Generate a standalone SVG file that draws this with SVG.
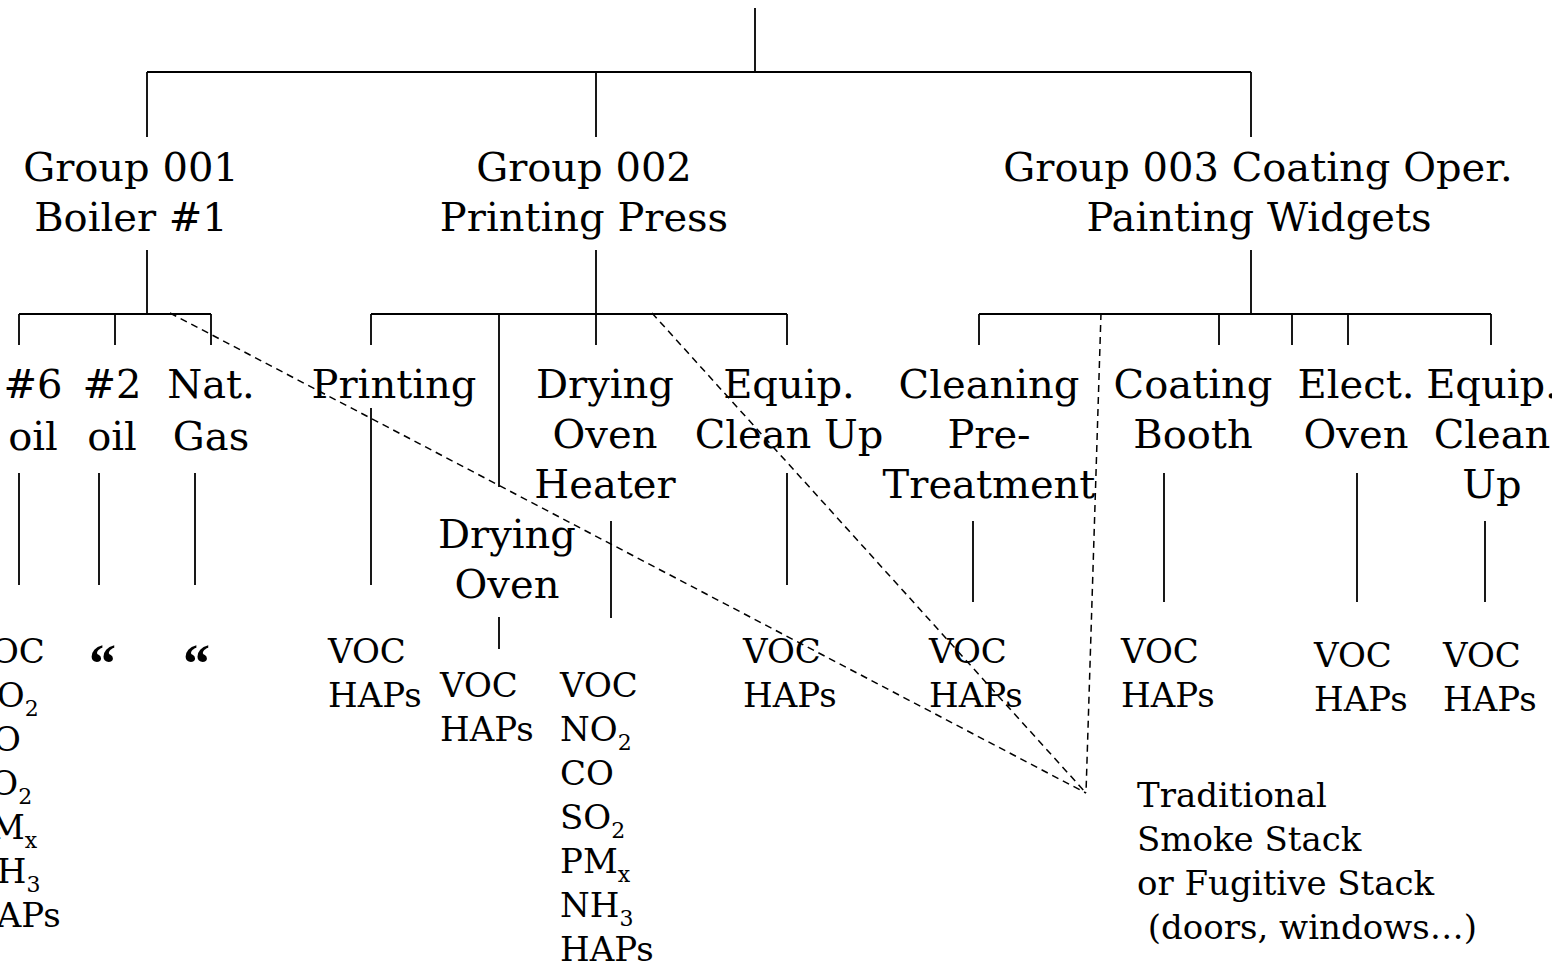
<svg xmlns="http://www.w3.org/2000/svg" width="1552" height="963" viewBox="0 0 1552 963">
<style>
.bg{fill:#ffffff}
.ln{stroke:#000;stroke-width:1.8;fill:none}
.dash{stroke:#000;stroke-width:1.5;fill:none;stroke-dasharray:7 5}
.lbl{font-family:"DejaVu Serif","Liberation Serif",serif;font-size:40px;fill:#000;text-anchor:middle}
.em{font-family:"DejaVu Serif","Liberation Serif",serif;font-size:34px;fill:#000}
.sub{font-size:22px}
.q{font-family:"Liberation Serif","DejaVu Serif",serif;font-size:54px;font-weight:bold;fill:#000}
</style>
<rect class="bg" x="0" y="0" width="1552" height="963"/>
<g id="connectors">
  <path class="ln" d="M755 8V72M147 72H1251M147 72V137M596 72V137M1251 72V137"/>
  <path class="ln" d="M147 250V314M19 314H211M19 314V345M115 314V345M211 314V345"/>
  <path class="ln" d="M19 473V585M99 473V585M195 473V585"/>
  <path class="ln" d="M596 250V314M371 314H787M371 314V345M499 314V487M596 314V345M787 314V345"/>
  <path class="ln" d="M371 408V585M499 617V649M611 521V618M787 473V585"/>
  <path class="ln" d="M1251 250V314M979 314H1491M979 314V345M1219 314V345M1292 314V345M1348 314V345M1491 314V345"/>
  <path class="ln" d="M973 521V602M1164 473V602M1357 473V602M1485 521V602"/>
  <path class="dash" d="M170 313L1086 793M652 313L1086 793M1101 313L1086 793"/>
</g>
<g id="group001">
  <text class="lbl" x="131" y="181">Group 001</text>
  <text class="lbl" x="131" y="231">Boiler #1</text>
</g>
<g id="group002">
  <text class="lbl" x="584" y="181">Group 002</text>
  <text class="lbl" x="584" y="231">Printing Press</text>
</g>
<g id="group003">
  <text class="lbl" x="1258" y="181">Group 003 Coating Oper.</text>
  <text class="lbl" x="1259" y="231">Painting Widgets</text>
</g>
<g id="oil6">
  <text class="lbl" x="33" y="398">#6</text>
  <text class="lbl" x="33" y="450">oil</text>
</g>
<g id="oil2">
  <text class="lbl" x="112" y="398">#2</text>
  <text class="lbl" x="112" y="450">oil</text>
</g>
<g id="natgas">
  <text class="lbl" x="211" y="398">Nat.</text>
  <text class="lbl" x="211" y="450">Gas</text>
</g>
<g id="printing">
  <text class="lbl" x="394" y="398">Printing</text>
</g>
<g id="dryingoven">
  <text class="lbl" x="507" y="548">Drying</text>
  <text class="lbl" x="507" y="598">Oven</text>
</g>
<g id="dryingovenheater">
  <text class="lbl" x="605" y="398">Drying</text>
  <text class="lbl" x="605" y="448">Oven</text>
  <text class="lbl" x="605" y="498">Heater</text>
</g>
<g id="equipcleanup2">
  <text class="lbl" x="789" y="398">Equip.</text>
  <text class="lbl" x="789" y="448">Clean Up</text>
</g>
<g id="cleaning">
  <text class="lbl" x="989" y="398">Cleaning</text>
  <text class="lbl" x="989" y="448">Pre-</text>
  <text class="lbl" x="989" y="498">Treatment</text>
</g>
<g id="coatingbooth">
  <text class="lbl" x="1193" y="398">Coating</text>
  <text class="lbl" x="1193" y="448">Booth</text>
</g>
<g id="electoven">
  <text class="lbl" x="1356" y="398">Elect.</text>
  <text class="lbl" x="1356" y="448">Oven</text>
</g>
<g id="equipcleanup3">
  <text class="lbl" x="1492" y="398">Equip.</text>
  <text class="lbl" x="1492" y="448">Clean</text>
  <text class="lbl" x="1492" y="498">Up</text>
</g>
<g id="em-oil6">
  <text class="em" x="-33" y="663">VOC</text>
  <text class="em" x="-33" y="707">NO<tspan class="sub" dy="9">2</tspan></text>
  <text class="em" x="-33" y="751">CO</text>
  <text class="em" x="-33" y="795">SO<tspan class="sub" dy="9">2</tspan></text>
  <text class="em" x="-33" y="839">PM<tspan class="sub" dy="9">x</tspan></text>
  <text class="em" x="-33" y="883">NH<tspan class="sub" dy="9">3</tspan></text>
  <text class="em" x="-33" y="927">HAPs</text>
</g>
<g id="em-oil2">
  <text class="q" x="89" y="682">“</text>
</g>
<g id="em-natgas">
  <text class="q" x="183" y="682">“</text>
</g>
<g id="em-printing">
  <text class="em" x="328" y="663">VOC</text>
  <text class="em" x="328" y="707">HAPs</text>
</g>
<g id="em-dryingoven">
  <text class="em" x="440" y="697">VOC</text>
  <text class="em" x="440" y="741">HAPs</text>
</g>
<g id="em-heater">
  <text class="em" x="560" y="697">VOC</text>
  <text class="em" x="560" y="741">NO<tspan class="sub" dy="9">2</tspan></text>
  <text class="em" x="560" y="785">CO</text>
  <text class="em" x="560" y="829">SO<tspan class="sub" dy="9">2</tspan></text>
  <text class="em" x="560" y="873">PM<tspan class="sub" dy="9">x</tspan></text>
  <text class="em" x="560" y="917">NH<tspan class="sub" dy="9">3</tspan></text>
  <text class="em" x="560" y="961">HAPs</text>
</g>
<g id="em-equip2">
  <text class="em" x="743" y="663">VOC</text>
  <text class="em" x="743" y="707">HAPs</text>
</g>
<g id="em-cleaning">
  <text class="em" x="929" y="663">VOC</text>
  <text class="em" x="929" y="707">HAPs</text>
</g>
<g id="em-coating">
  <text class="em" x="1121" y="663">VOC</text>
  <text class="em" x="1121" y="707">HAPs</text>
</g>
<g id="em-elect">
  <text class="em" x="1314" y="667">VOC</text>
  <text class="em" x="1314" y="711">HAPs</text>
</g>
<g id="em-equip3">
  <text class="em" x="1443" y="667">VOC</text>
  <text class="em" x="1443" y="711">HAPs</text>
</g>
<g id="stack">
  <text class="em" x="1137" y="807">Traditional</text>
  <text class="em" x="1137" y="851">Smoke Stack</text>
  <text class="em" x="1137" y="895">or Fugitive Stack</text>
  <text class="em" x="1137" y="939" xml:space="preserve"> (doors, windows…)</text>
</g>
</svg>
